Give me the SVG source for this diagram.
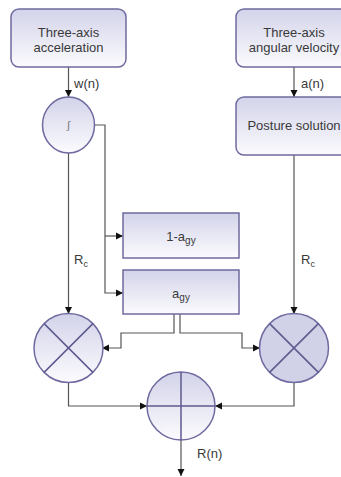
<svg xmlns="http://www.w3.org/2000/svg" width="341" height="477" viewBox="0 0 341 477">
<defs>
<linearGradient id="g" x1="0" y1="0" x2="0" y2="1">
<stop offset="0" stop-color="#d3d3ea"/>
<stop offset="1" stop-color="#fbfbfe"/>
</linearGradient>
<marker id="ah" markerWidth="8" markerHeight="8" refX="7" refY="4" orient="auto" markerUnits="userSpaceOnUse">
<path d="M0,0.5 L7,4 L0,7.5 z" fill="#111"/>
</marker>
<style>
.n{fill:url(#g);stroke:#6f6a9f;stroke-width:1.5}
.s{fill:#d1d1e8;stroke:#6f6a9f;stroke-width:1.5}
.x{stroke:#5f5a90;stroke-width:1.5;fill:none}
.c{fill:none;stroke:#555;stroke-width:1.2;marker-end:url(#ah)}
.p{fill:none;stroke:#555;stroke-width:1.2}
text{font-family:"Liberation Sans",Arial,sans-serif;font-size:13px;fill:#3a3a3a;text-anchor:middle}
.l{text-anchor:start}
.sub{font-size:9px}
</style>
</defs>
<g id="connectors">
<path class="c" d="M68.5 67 V97"/>
<path class="c" d="M294 67 V97"/>
<path class="c" d="M68.5 153 V314"/>
<path class="c" d="M94.5 125 H105 V293 H123"/>
<path class="c" d="M105 236 H123"/>
<path class="c" d="M294 155 V314"/>
<path class="c" d="M174 314 V333 H121 V348 H102"/>
<path class="c" d="M180 314 V333 H242 V348 H260"/>
<path class="c" d="M68.5 382 V406 H147"/>
<path class="c" d="M294 382 V406 H215"/>
<path class="c" d="M181 440 V476"/>
<text class="l" x="74" y="88">w(n)</text>
<text class="l" x="301" y="88">a(n)</text>
<text class="l" x="74" y="264">R<tspan class="sub" dy="3">c</tspan></text>
<text class="l" x="301" y="264">R<tspan class="sub" dy="3">c</tspan></text>
<text class="l" x="197" y="458">R(n)</text>
</g>
<g id="acc">
<rect class="n" x="11" y="9" width="115" height="58" rx="8"/>
<text x="68.5" y="37">Three-axis</text>
<text x="68.5" y="52">acceleration</text>
</g>
<g id="angvel">
<rect class="n" x="236" y="9" width="116" height="58" rx="8"/>
<text x="294" y="37">Three-axis</text>
<text x="294" y="52">angular velocity</text>
</g>
<g id="integral">
<ellipse class="n" cx="68.5" cy="125" rx="26" ry="28"/>
<text x="68.5" y="129" style="font-size:11px;fill:#777">∫</text>
</g>
<g id="posture">
<rect class="n" x="236" y="97" width="116" height="58" rx="8"/>
<text x="294" y="130">Posture solution</text>
</g>
<g id="one-minus-agy">
<rect class="n" x="123" y="213" width="116" height="45"/>
<text x="181" y="241">1-a<tspan class="sub" style="font-size:10px" dy="3">gy</tspan></text>
</g>
<g id="agy">
<rect class="n" x="123" y="270" width="116" height="44"/>
<text x="181" y="298">a<tspan class="sub" style="font-size:10px" dy="3">gy</tspan></text>
</g>
<g id="mult-left">
<circle class="n" cx="68.5" cy="348" r="34.5"/>
<path class="x" d="M44.1 323.6 L92.9 372.4 M92.9 323.6 L44.1 372.4"/>
</g>
<g id="mult-right">
<circle class="s" cx="294" cy="348" r="34.5"/>
<path class="x" d="M269.6 323.6 L318.4 372.4 M318.4 323.6 L269.6 372.4"/>
</g>
<g id="sum">
<circle class="n" cx="181" cy="406" r="34"/>
<path class="x" d="M181 372 V440 M147 406 H215"/>
</g>
</svg>
